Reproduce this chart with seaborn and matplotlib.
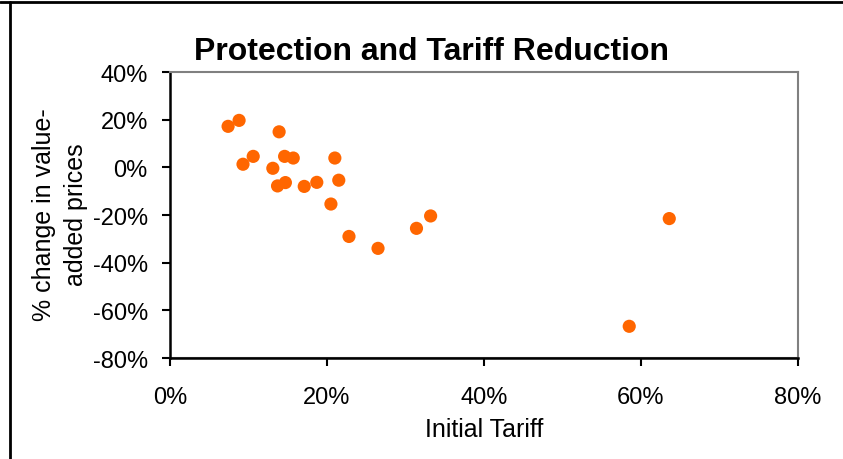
import matplotlib
matplotlib.use("Agg")
import matplotlib.pyplot as plt
import matplotlib.ticker as mticker
from matplotlib.lines import Line2D
import seaborn as sns
import pandas as pd

# Initial tariff (%) and change in value-added prices (%) per sector
initial_tariff = [7.4, 8.8, 13.9, 9.3, 10.6, 13.1, 14.6, 15.7, 13.7, 14.7,
                  17.1, 18.7, 21.0, 21.5, 20.5, 22.8, 26.5, 31.4, 33.2, 63.6, 58.5]
price_change = [17.2, 19.7, 14.9, 1.3, 4.6, -0.4, 4.6, 3.9, -7.8, -6.4,
                -8.0, -6.3, 3.9, -5.4, -15.4, -29.0, -34.0, -25.6, -20.4, -21.5, -66.7]

x_ticks = [0, 20, 40, 60, 80]
y_ticks = [-80, -60, -40, -20, 0, 20, 40]

df = pd.DataFrame({"tariff": initial_tariff, "change": price_change})

sns.set_style("white")
plt.rcParams["font.family"] = ["Liberation Sans", "DejaVu Sans"]
plt.rcParams["text.color"] = "black"
plt.rcParams["axes.labelcolor"] = "black"
plt.rcParams["xtick.color"] = "black"
plt.rcParams["ytick.color"] = "black"

fig = plt.figure(figsize=(8.43, 4.60), dpi=100)
ax = fig.add_axes([170 / 843, 1 - 359 / 460, (798 - 170) / 843, (359 - 73) / 460])

sns.scatterplot(data=df, x="tariff", y="change", ax=ax, color="#FF6600",
                s=90, edgecolor="none", linewidth=0, legend=False, zorder=3)

ax.set_xlim(0, 80)
ax.set_ylim(-80, 40)
ax.set_xticks(x_ticks)
ax.set_yticks(y_ticks)
ax.xaxis.set_major_formatter(mticker.FuncFormatter(lambda v, p: f"{v:.0f}%"))
ax.yaxis.set_major_formatter(mticker.FuncFormatter(lambda v, p: f"{v:.0f}%"))
ax.tick_params(axis="both", which="major", labelsize=17, direction="out",
               length=6, width=1.5, color="black", labelcolor="black")
ax.tick_params(axis="x", pad=14)
ax.tick_params(axis="y", pad=10)
ax.tick_params(axis="both", bottom=True, left=True)

ax.spines["left"].set_color("black")
ax.spines["left"].set_linewidth(1.8)
ax.spines["bottom"].set_color("black")
ax.spines["bottom"].set_linewidth(1.8)
ax.spines["top"].set_color("#808080")
ax.spines["top"].set_linewidth(1.5)
ax.spines["right"].set_color("#808080")
ax.spines["right"].set_linewidth(1.5)

# Grey plot-area border showing just beneath the black x axis
ax.add_artist(Line2D([0, 1], [0, 0], transform=ax.transAxes, color="#808080",
                     linewidth=1.5, clip_on=False, zorder=2.4))
ax.spines["bottom"].set_zorder(2.6)

ax.set_xlabel("Initial Tariff", fontsize=18, labelpad=7)
ax.set_ylabel("")

fig.text(60 / 843, 1 - 215 / 460, "% change in value-\nadded prices", rotation=90,
         ha="center", va="center", fontsize=18, linespacing=1.4)
fig.text(432 / 843, 1 - 60 / 460, "Protection and Tariff Reduction",
         ha="center", va="baseline", fontsize=23, fontweight="bold")

# Outer frame edges along the top and left of the figure
fig.add_artist(Line2D([0, 1], [1 - 2.5 / 460, 1 - 2.5 / 460], transform=fig.transFigure,
                      color="black", linewidth=2))
fig.add_artist(Line2D([10 / 843, 10 / 843], [0, 1 - 2.5 / 460], transform=fig.transFigure,
                      color="black", linewidth=2))

fig.savefig("out.png", dpi=100)
